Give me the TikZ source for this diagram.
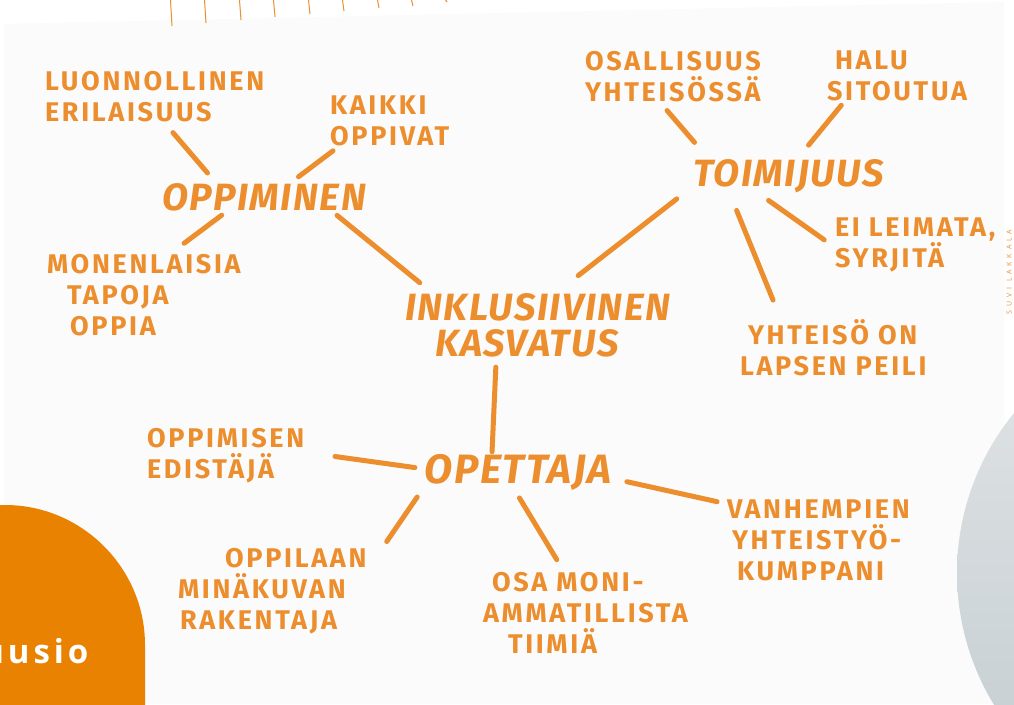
\documentclass[tikz,border=0pt]{standalone}
\usepackage{fontspec}
\newfontfamily\handfont[LetterSpace=10]{Fira Sans}
\newfontfamily\hubfont[LetterSpace=4]{Fira Sans}
\newfontfamily\brandfont[LetterSpace=12]{Open Sans}
\newfontfamily\creditfont[LetterSpace=55]{Open Sans}
\definecolor{hand}{RGB}{236,142,45}
\definecolor{blockorange}{RGB}{233,130,0}
\definecolor{paper}{RGB}{251,251,251}
\definecolor{circtop}{RGB}{226,229,231}
\definecolor{circbot}{RGB}{194,203,207}
\tikzset{>=latex}

\begin{document}
\begin{tikzpicture}[x=1pt, y=-1pt, line join=round,
    leaf/.style={text=hand, inner sep=0pt, align=left, font=\handfont\bfseries\fontsize{27}{31}\selectfont, execute at begin node={\hyphenpenalty=10000\relax}},
    hub/.style={text=hand, inner sep=0pt, align=left, font=\hubfont\bfseries\itshape\fontsize{38}{36}\selectfont, execute at begin node={\hyphenpenalty=10000\relax}},
    link/.style={draw=hand, line width=5pt, line cap=round}]
    \useasboundingbox (0,0) rectangle (1014,704);
    \clip (0,0) rectangle (1014,704);
    \fill[white] (0,0) rectangle (1014,704);
    \fill[paper] (4,24) -- (1004,2) -- (1004,704) -- (4,704) -- cycle;
    \foreach \x/\l in {172/26, 206/23, 241/20, 275/17, 310/14, 344/11, 379/8, 413/6, 447/2}
        \draw[hand, line width=1pt] (\x-1.5,0) -- (\x,\l);
    \shade[top color=circtop, bottom color=circbot] (1210,573) circle (253pt);
    \fill[blockorange] (0,720) -- (0,505) -- (5,505) .. controls (82,505) and (145,568) .. (145,645) -- (145,720) -- cycle;
    \node[text=white, anchor=base east, font=\brandfont\bfseries\fontsize{33}{33}\selectfont] (brand) at (92,663) {uusio};
    \node[text=hand, rotate=90, font=\creditfont\fontsize{7}{7}\selectfont] (credit) at (1009,272) {SUVI LAKKALA};

    \node[hub, minimum width=198pt, minimum height=29pt] (oppiminen) at (264,197.5) {OPPIMINEN};
    \node[hub, minimum width=183pt, minimum height=28pt] (toimi) at (788.5,176) {TOIMIJUUS};
    \node[hub, minimum width=190pt, minimum height=30pt, font=\hubfont\bfseries\itshape\fontsize{41}{41}\selectfont] (opettaja) at (518,472) {OPETTAJA};
    \node[hub, text width=265pt, minimum height=64pt] (inkl) at (537.5,325) {INKLUSIIVINEN\\\hspace*{30pt}KASVATUS};

    \node[leaf, text width=215pt, minimum height=49pt] (luonn) at (152.5,96.5) {LUONNOLLINEN\\ERILAISUUS};
    \node[leaf, text width=113pt, minimum height=58pt] (kaikki) at (386.5,121) {KAIKKI\\OPPIVAT};
    \node[leaf, text width=188pt, minimum height=78pt] (monen) at (141,295) {MONENLAISIA\\\hspace*{20pt}TAPOJA\\\hspace*{23pt}OPPIA};
    \node[leaf, text width=162pt, minimum height=57pt] (osall) at (666,76.5) {OSALLISUUS\\YHTEISÖSSÄ};
    \node[leaf, text width=146pt, minimum height=52pt] (halu) at (900,76) {\hspace*{8pt}HALU\\SITOUTUA};
    \node[leaf, text width=163pt, minimum height=57pt] (eilei) at (916.5,244.5) {EI~LEIMATA,\\SYRJITÄ};
    \node[leaf, text width=200pt, minimum height=64pt] (yhteiso) at (840,348) {\hspace*{8pt}YHTEISÖ~ON\\LAPSEN~PEILI};
    \node[leaf, text width=170pt, minimum height=53pt] (edist) at (232,455.5) {OPPIMISEN\\EDISTÄJÄ};
    \node[leaf, text width=204pt, minimum height=91pt] (oppil) at (280,591.5) {\hspace*{47pt}OPPILAAN\\MINÄKUVAN\\\hspace*{2pt}RAKENTAJA};
    \node[leaf, text width=237pt, minimum height=84pt] (osamon) at (601.5,613) {\hspace*{9pt}OSA~MONI-\\AMMATILLISTA\\\hspace*{25pt}TIIMIÄ};
    \node[leaf, text width=201pt, minimum height=95pt] (vanhem) at (827.5,540.5) {VANHEMPIEN\\\hspace*{5pt}YHTEISTYÖ-\\\hspace*{10pt}KUMPPANI};

    \draw[link, shorten <=13pt, shorten >=14pt] (oppiminen.163) -- (luonn.-66);
    \draw[link, shorten <=10pt, shorten >=1pt] (oppiminen.29) -- (kaikki.-151);
    \draw[link, shorten <=5pt, shorten >=18pt] (oppiminen.-159) -- (monen.55);
    \draw[link, shorten <=5pt, shorten >=16pt] (oppiminen.-12) -- (inkl.163);
    \draw[link, shorten <=28pt, shorten >=21pt] (inkl.60) -- (toimi.-174);
    \draw[link, shorten <=10pt, shorten >=2pt] (inkl.-142) -- (opettaja.145);
    \draw[link, shorten <=22pt, shorten >=7pt] (toimi.168) -- (osall.-97);
    \draw[link, shorten <=18pt, shorten >=4pt] (toimi.63) -- (halu.-155);
    \draw[link, shorten <=13pt, shorten >=13pt] (toimi.-151) -- (eilei.-178);
    \draw[link, shorten <=19pt, shorten >=17pt] (toimi.-164) -- (yhteiso.152);
    \draw[link, shorten <=8pt, shorten >=18pt] (opettaja.178) -- (edist.1);
    \draw[link, shorten <=10pt, shorten >=8pt] (opettaja.-170) -- (oppil.23);
    \draw[link, shorten <=9pt, shorten >=13pt] (opettaja.-100) -- (osamon.132);
    \draw[link, shorten <=14pt, shorten >=10pt] (opettaja.-4) -- (vanhem.160);
\end{tikzpicture}
\end{document}
